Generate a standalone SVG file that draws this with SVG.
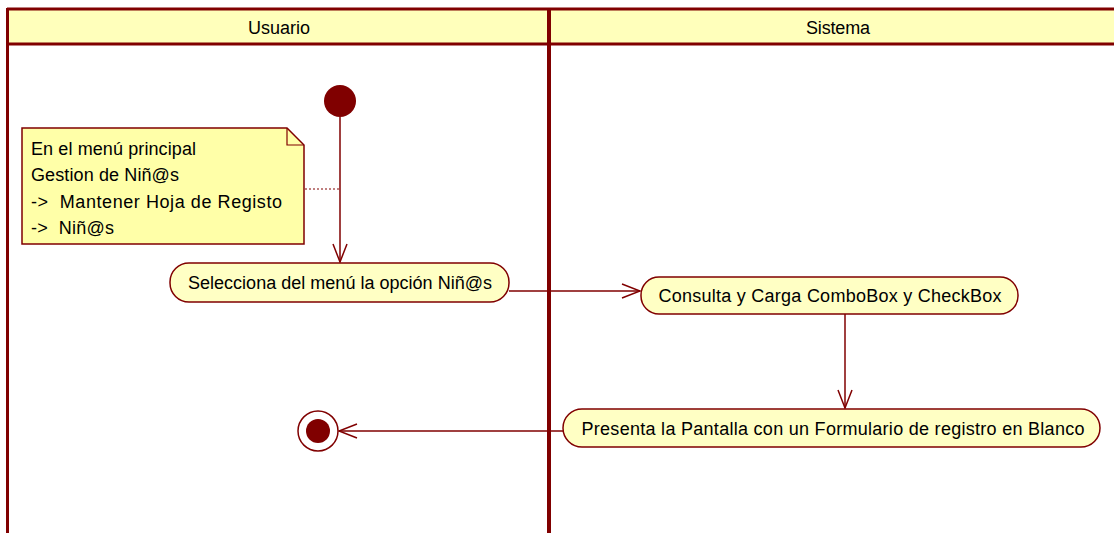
<svg xmlns="http://www.w3.org/2000/svg" width="1114" height="533" viewBox="0 0 1114 533">
<defs>
<style>
.t{font-family:"Liberation Sans",Arial,sans-serif;font-size:18px;fill:#000}
.act{fill:#FFFFC4;stroke:#800000;stroke-width:1.5}
.ln{stroke:#800000;stroke-width:1.5;fill:none}
</style>
<marker id="arr" markerWidth="22" markerHeight="16" refX="20" refY="8" orient="auto" markerUnits="userSpaceOnUse">
<path d="M2,1 L20,8 L2,15" fill="none" stroke="#800000" stroke-width="1.5"/>
</marker>
</defs>
<rect width="1114" height="533" fill="#fff"/>
<g id="lanes">
<rect x="7" y="9" width="1110" height="35" fill="#FFFFBB"/>
<line x1="7" y1="9" x2="1114" y2="9" stroke="#800000" stroke-width="3"/>
<line x1="7" y1="44" x2="1114" y2="44" stroke="#800000" stroke-width="3"/>
<line x1="7.5" y1="8" x2="7.5" y2="533" stroke="#800000" stroke-width="3"/>
<line x1="549" y1="8" x2="549" y2="533" stroke="#800000" stroke-width="4"/>
<text class="t" x="279" y="34" text-anchor="middle" textLength="62">Usuario</text>
<text class="t" x="838" y="34" text-anchor="middle" textLength="64">Sistema</text>
</g>
<g id="connectors">
<line class="ln" x1="340" y1="117" x2="340" y2="262" marker-end="url(#arr)"/>
<line x1="305" y1="189" x2="339" y2="189" stroke="#800000" stroke-width="1" stroke-dasharray="2,2"/>
<line class="ln" x1="509" y1="291" x2="640" y2="291" marker-end="url(#arr)"/>
<line class="ln" x1="845" y1="314" x2="845" y2="408" marker-end="url(#arr)"/>
<line class="ln" x1="563" y1="431" x2="339" y2="431" marker-end="url(#arr)"/>
</g>
<g id="start">
<circle cx="340" cy="101" r="16" fill="#800000"/>
</g>
<g id="note">
<path d="M22,128 L287,128 L304,145 L304,244 L22,244 Z" fill="#FFFFA8" stroke="#800000" stroke-width="1.5"/>
<path d="M287,128 L287,145 L304,145" fill="none" stroke="#800000" stroke-width="1.2"/>
<text class="t" x="31" y="155" textLength="165">En el menú principal</text>
<text class="t" x="31" y="181" textLength="148">Gestion de Niñ@s</text>
<text class="t" x="31" y="208" xml:space="preserve" textLength="251">-&gt;  Mantener Hoja de Registo</text>
<text class="t" x="31" y="234" xml:space="preserve" textLength="83">-&gt;  Niñ@s</text>
</g>
<g id="act1">
<rect class="act" x="170" y="263" width="339" height="39" rx="19"/>
<text class="t" x="340" y="289" text-anchor="middle" textLength="304">Selecciona del menú la opción Niñ@s</text>
</g>
<g id="act2">
<rect class="act" x="641" y="277" width="377" height="37" rx="18"/>
<text class="t" x="830" y="302" text-anchor="middle" textLength="343">Consulta y Carga ComboBox y CheckBox</text>
</g>
<g id="act3">
<rect class="act" x="563" y="409" width="537" height="38" rx="19"/>
<text class="t" x="833" y="435" text-anchor="middle" textLength="503">Presenta la Pantalla con un Formulario de registro en Blanco</text>
</g>
<g id="end">
<circle cx="318" cy="431" r="20" fill="#fff" stroke="#800000" stroke-width="1.5"/>
<circle cx="318" cy="431" r="12" fill="#800000"/>
</g>
</svg>
